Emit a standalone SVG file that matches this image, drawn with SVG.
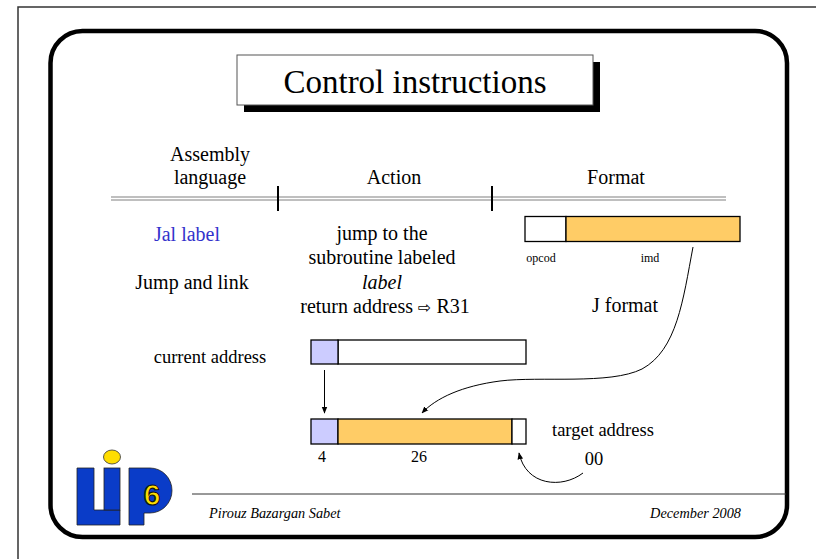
<svg xmlns="http://www.w3.org/2000/svg" width="816" height="559" viewBox="0 0 816 559">
<defs>
<style>
.t{font-family:"Liberation Serif","Times New Roman",serif;fill:#000}
.c{text-anchor:middle}
.box{stroke:#000;stroke-width:1.3}
.thin{fill:none;stroke:#000;stroke-width:1}
.blue{fill:#ccccff}
.org{fill:#ffcc66}
.wht{fill:#fff}
.logo{fill:#0a3cc8;stroke:#222;stroke-width:0.8}
</style>
<marker id="ah" viewBox="0 0 10 10" refX="9" refY="5" markerWidth="7" markerHeight="7" orient="auto" markerUnits="userSpaceOnUse">
<path d="M0,1 L10,5 L0,9 Z" fill="#000"/>
</marker>
</defs>
<rect x="0" y="0" width="816" height="559" fill="#fff"/>
<rect x="18" y="7" width="900" height="600" fill="none" stroke="#333" stroke-width="1.5"/>
<rect x="50.5" y="31" width="736.5" height="506" rx="32" ry="32" fill="none" stroke="#000" stroke-width="4.5"/>

<g id="title">
<rect x="244" y="62" width="356" height="50" fill="#000"/>
<rect x="237" y="55" width="356" height="50" fill="#fff" stroke="#555" stroke-width="1"/>
<text class="t c" x="415" y="93" font-size="33">Control instructions</text>
</g>

<g id="header" font-family="Liberation Serif, Times New Roman, serif">
<line x1="111" y1="197" x2="726" y2="197" stroke="#808080" stroke-width="1.2"/>
<line x1="111" y1="200" x2="726" y2="200" stroke="#808080" stroke-width="1.2"/>
<line x1="278" y1="186" x2="278" y2="211" stroke="#000" stroke-width="2"/>
<line x1="492" y1="186" x2="492" y2="211" stroke="#000" stroke-width="2"/>
<text class="t c" x="210" y="161" font-size="20">Assembly</text>
<text class="t c" x="210" y="184" font-size="20">language</text>
<text class="t c" x="394" y="184" font-size="20">Action</text>
<text class="t c" x="616" y="184" font-size="20">Format</text>
</g>

<g id="assembly">
<text class="t c" x="187" y="241" font-size="20" style="fill:#3333cc">Jal label</text>
<text class="t c" x="192" y="289" font-size="20">Jump and link</text>
</g>

<g id="action">
<text class="t c" x="382" y="240" font-size="20">jump to the</text>
<text class="t c" x="382" y="264" font-size="20">subroutine labeled</text>
<text class="t c" x="382" y="289" font-size="20" font-style="italic">label</text>
<text class="t c" x="385" y="313" font-size="20">return address <tspan font-family="DejaVu Sans, sans-serif" font-size="16">⇨</tspan> R31</text>
</g>

<g id="format">
<rect class="box wht" x="525" y="216.5" width="41" height="25"/>
<rect class="box org" x="566" y="216.5" width="174" height="25"/>
<text class="t c" x="541" y="262" font-size="12">opcod</text>
<text class="t c" x="650" y="262" font-size="12">imd</text>
<text class="t c" x="625" y="312" font-size="20">J format</text>
</g>

<g id="current">
<text class="t c" x="210" y="363" font-size="18.5">current address</text>
<rect class="box wht" x="338" y="340" width="188" height="24"/>
<rect class="box blue" x="311" y="340" width="27" height="24"/>
</g>

<g id="target">
<rect class="box blue" x="311" y="419" width="27" height="25"/>
<rect class="box org" x="338" y="419" width="174" height="25"/>
<rect class="box wht" x="512" y="419" width="14" height="25"/>
<text class="t c" x="322" y="462" font-size="16">4</text>
<text class="t c" x="419" y="462" font-size="16">26</text>
<text class="t" x="552" y="436" font-size="18.5">target address</text>
<text class="t c" x="594" y="465" font-size="18.5">00</text>
</g>

<g id="connectors">
<line class="thin" x1="324.5" y1="370" x2="324.5" y2="413" marker-end="url(#ah)"/>
<path class="thin" d="M 693 247 C 683 300, 677 350, 642 369 C 610 385, 540 376, 500 381 C 462 386, 436 398, 422 413" marker-end="url(#ah)"/>
<path class="thin" d="M 583 473 C 562 489, 526 486, 519 453" marker-end="url(#ah)"/>
</g>

<g id="footer">
<line x1="192" y1="494" x2="786" y2="494" stroke="#333" stroke-width="1"/>
<text class="t" x="209" y="518" font-size="14.3" font-style="italic">Pirouz Bazargan Sabet</text>
<text class="t" x="741" y="518" font-size="14.3" font-style="italic" text-anchor="end">December 2008</text>
</g>

<g id="logo">
<path class="logo" d="M77 468 L94 468 L94 510 L120 510 L120 525 L77 525 Z"/>
<rect class="logo" x="104" y="468" width="16" height="42"/>
<path class="logo" d="M129 468 L150 468 A22 22.5 0 0 1 150 513 L144 513 L144 525 L129 525 Z"/>
<ellipse cx="112" cy="457" rx="8.5" ry="7" fill="#ffdd00" stroke="#333" stroke-width="0.8"/>
<text x="152" y="505" font-family="Liberation Sans, Arial, sans-serif" font-weight="bold" font-size="30" text-anchor="middle" fill="#ffdd00" stroke="#111" stroke-width="1.2">6</text>
</g>
</svg>
